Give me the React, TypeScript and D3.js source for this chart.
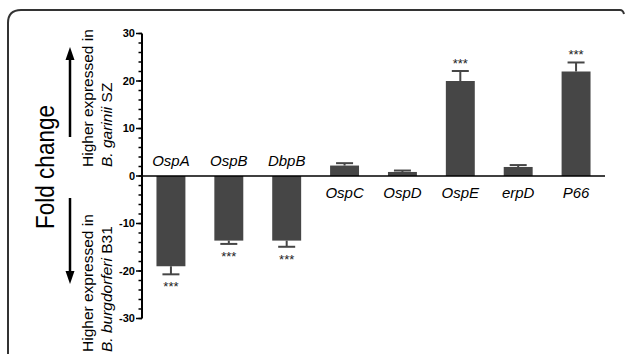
import React from 'react';
import * as d3 from 'd3';

const categories = ['OspA', 'OspB', 'DbpB', 'OspC', 'OspD', 'OspE', 'erpD', 'P66'];
const foldChange = [-19, -13.6, -13.6, 2.2, 0.85, 20, 1.9, 22];
const sem = [1.7, 0.7, 1.3, 0.5, 0.3, 2.1, 0.4, 1.9];
const significance = ['***', '***', '***', '', '', '***', '', '***'];
const yTicks = [-30, -20, -10, 0, 10, 20, 30];
const yMinorTicks = d3.range(-30, 31, 2);

const W = 625;
const H = 354;
const FONT = '"Liberation Sans", Arial, sans-serif';
const BAR = '#464646';

const App = () => {
  const x = d3.scaleBand<string>().domain(categories).range([142, 605]).paddingInner(0.5).paddingOuter(0.25);
  const y = d3.scaleLinear().domain([-30, 30]).range([318.5, 33.5]);
  const y0 = y(0);
  const bw = x.bandwidth();

  return (
    <svg width={W} height={H} style={{ position: 'absolute', left: 0, top: 0 }} fontFamily={FONT}>
      <rect width={W} height={H} fill="#fff" />
      {/* rounded frame, cut off at bottom */}
      <path d="M8,360 L8,23 Q8,10 21,10 L620,10 Q623,10 624,14" fill="none" stroke="#333" strokeWidth={2} />

      {/* axis titles */}
      <text transform="translate(54,167) rotate(-90)" textAnchor="middle" fontSize={26}
        textLength={124} lengthAdjust="spacingAndGlyphs">Fold change</text>
      <g stroke="#000" strokeWidth={2.5}>
        <line x1={70} y1={137} x2={70} y2={58} />
        <line x1={70} y1={198} x2={70} y2={273} />
      </g>
      <path d="M70,47 L65.5,60 L74.5,60 Z" fill="#000" />
      <path d="M70,284 L65.5,271 L74.5,271 Z" fill="#000" />
      <text transform="translate(93,167) rotate(-90)" fontSize={15.5}>Higher expressed in</text>
      <text transform="translate(112,167) rotate(-90)" fontSize={15.5}>
        <tspan fontStyle="italic">B. garinii</tspan> SZ
      </text>
      <text transform="translate(93,352) rotate(-90)" fontSize={15.5}>Higher expressed in</text>
      <text transform="translate(112,352) rotate(-90)" fontSize={15.5}>
        <tspan fontStyle="italic">B. burgdorferi</tspan> B31
      </text>

      {/* y axis */}
      <line x1={142} x2={142} y1={y(30)} y2={y(-30)} stroke="#000" strokeWidth={2} />
      {yMinorTicks.map((t) => (
        <line key={'m' + t} x1={138.5} x2={142} y1={y(t)} y2={y(t)} stroke="#000" strokeWidth={1.5} />
      ))}
      {yTicks.map((t) => (
        <g key={t}>
          <line x1={136} x2={142} y1={y(t)} y2={y(t)} stroke="#000" strokeWidth={1.5} />
          <text x={135} y={y(t)} dy="0.35em" textAnchor="end" fontSize={11} fontWeight="bold">{t}</text>
        </g>
      ))}

      {/* bars */}
      {categories.map((c, i) => {
        const v = foldChange[i];
        const x0 = x(c) as number;
        const cx = x0 + bw / 2;
        const top = Math.min(y(v), y0);
        const errEnd = v >= 0 ? y(v + sem[i]) : y(v - sem[i]);
        return (
          <g key={c}>
            <rect x={x0} y={top} width={bw} height={Math.abs(y(v) - y0)} fill={BAR} />
            <line x1={cx} x2={cx} y1={y(v)} y2={errEnd} stroke={BAR} strokeWidth={2} />
            <line x1={cx - 8.5} x2={cx + 8.5} y1={errEnd} y2={errEnd} stroke={BAR} strokeWidth={2} />
            {significance[i] && (
              <text x={cx} y={v >= 0 ? errEnd - 3 : errEnd + 17} textAnchor="middle" fontSize={13} fill="#222">
                {significance[i]}
              </text>
            )}
            <text x={cx} y={v < 0 ? y0 - 10 : y0 + 22} textAnchor="middle" fontSize={15} fontStyle="italic">
              {c}
            </text>
          </g>
        );
      })}

      {/* zero line */}
      <line x1={142} x2={605} y1={y0} y2={y0} stroke="#000" strokeWidth={1.5} />
    </svg>
  );
};

export default App;
